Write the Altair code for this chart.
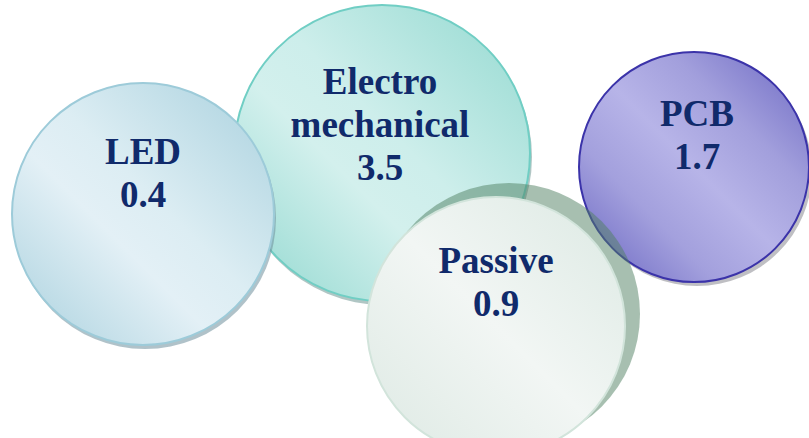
import altair as alt
import pandas as pd

# ---- data ----
categories = ["LED", "Electromechanical", "Passive", "PCB"]
label_lines = [["LED"], ["Electro", "mechanical"], ["Passive"], ["PCB"]]
values = [0.4, 3.5, 0.9, 1.7]

# ---- layout (pixel space of the 809x438 canvas) ----
bubble_cx = [143, 382, 496, 694]
bubble_cy = [214, 153, 326, 167]
bubble_r = [131, 148, 129, 115]
label_x = [143, 380, 496, 697]
label_y = [164, 94, 273, 126]

W, H = 809, 438

df = pd.DataFrame({
    "category": categories,
    "value": values,
    "cx": bubble_cx,
    "cy": bubble_cy,
    "r": bubble_r,
    "lx": label_x,
    "ly": label_y,
})
df["label"] = ["\n".join(lines + [f"{v:g}"]) for lines, v in zip(label_lines, values)]
df["size"] = (2 * df["r"]) ** 2

xs = alt.Scale(domain=[0, W], range=[0, W])
ys = alt.Scale(domain=[0, H], range=[0, H])

base = alt.Chart(df)


def grad(stops):
    return alt.Gradient(
        gradient="linear",
        x1=1, y1=0, x2=0, y2=1,
        stops=[alt.GradientStop(offset=o, color=c) for o, c in stops],
    )


styles = {
    "LED": dict(
        fill=grad([(0, "#a9d1de"), (0.45, "#dcedf3"), (0.6, "#e3f0f6"), (1, "#a8d0dd")]),
        stroke="#9dcbd9", shadow="#6f8f9c", sdx=2, sdy=4),
    "Electromechanical": dict(
        fill=grad([(0, "#93d9d0"), (0.45, "#cdeeeb"), (0.6, "#d3f0ed"), (1, "#8ed7ce")]),
        stroke="#70cec4", shadow="#6f9893", sdx=2, sdy=4),
    "PCB": dict(
        fill=grad([(0, "#6a66c2"), (0.3, "#a29fdc"), (0.5, "#b7b4e8"), (0.7, "#a3a0dd"), (1, "#6662c0")]),
        stroke="#3b33a9", shadow="#8a8a92", sdx=3, sdy=4),
    "Passive": dict(
        fill=grad([(0, "#dce9e3"), (0.5, "#f2f6f4"), (1, "#dde9e3")]),
        stroke="#d2e4db", shadow=None, sdx=0, sdy=0),
}


def bubble(cat):
    st = styles[cat]
    layers = []
    f = base.transform_filter(alt.datum.category == cat)
    if st["shadow"]:
        layers.append(
            f.transform_calculate(sx=f"datum.cx + {st['sdx']}", sy=f"datum.cy + {st['sdy']}")
            .mark_circle(color=st["shadow"], opacity=0.55)
            .encode(
                x=alt.X("sx:Q", scale=xs, axis=None),
                y=alt.Y("sy:Q", scale=ys, axis=None),
                size=alt.Size("size:Q", scale=None, legend=None),
            )
        )
    layers.append(
        f.mark_circle(fill=st["fill"], stroke=st["stroke"], strokeWidth=2, opacity=1)
        .encode(
            x=alt.X("cx:Q", scale=xs, axis=None),
            y=alt.Y("cy:Q", scale=ys, axis=None),
            size=alt.Size("size:Q", scale=None, legend=None),
        )
    )
    return layers


# big translucent green shadow behind the Passive bubble
passive_shadow = (
    base.transform_filter(alt.datum.category == "Passive")
    .transform_calculate(sx="datum.cx + 13", sy="datum.cy - 12", ss="pow(2 * (datum.r + 2), 2)")
    .mark_circle(color="#4f7f61", opacity=0.5)
    .encode(
        x=alt.X("sx:Q", scale=xs, axis=None),
        y=alt.Y("sy:Q", scale=ys, axis=None),
        size=alt.Size("ss:Q", scale=None, legend=None),
    )
)

labels = base.mark_text(
    lineBreak="\n",
    font="Liberation Serif",
    fontWeight="bold",
    fontSize=37,
    lineHeight=43,
    align="center",
    baseline="alphabetic",
    color="#102a6b",
).encode(
    x=alt.X("lx:Q", scale=xs, axis=None),
    y=alt.Y("ly:Q", scale=ys, axis=None),
    text="label:N",
)

layers = []
layers += bubble("Electromechanical")
layers += bubble("LED")
layers += bubble("PCB")
layers.append(passive_shadow)
layers += bubble("Passive")
layers.append(labels)

chart = (
    alt.layer(*layers)
    .properties(width=W, height=H, padding=0, autosize=alt.AutoSizeParams(type="none"), background="white")
    .configure_view(strokeWidth=0)
)

chart.save("out.html", embed_options={"renderer": "svg", "actions": False})
